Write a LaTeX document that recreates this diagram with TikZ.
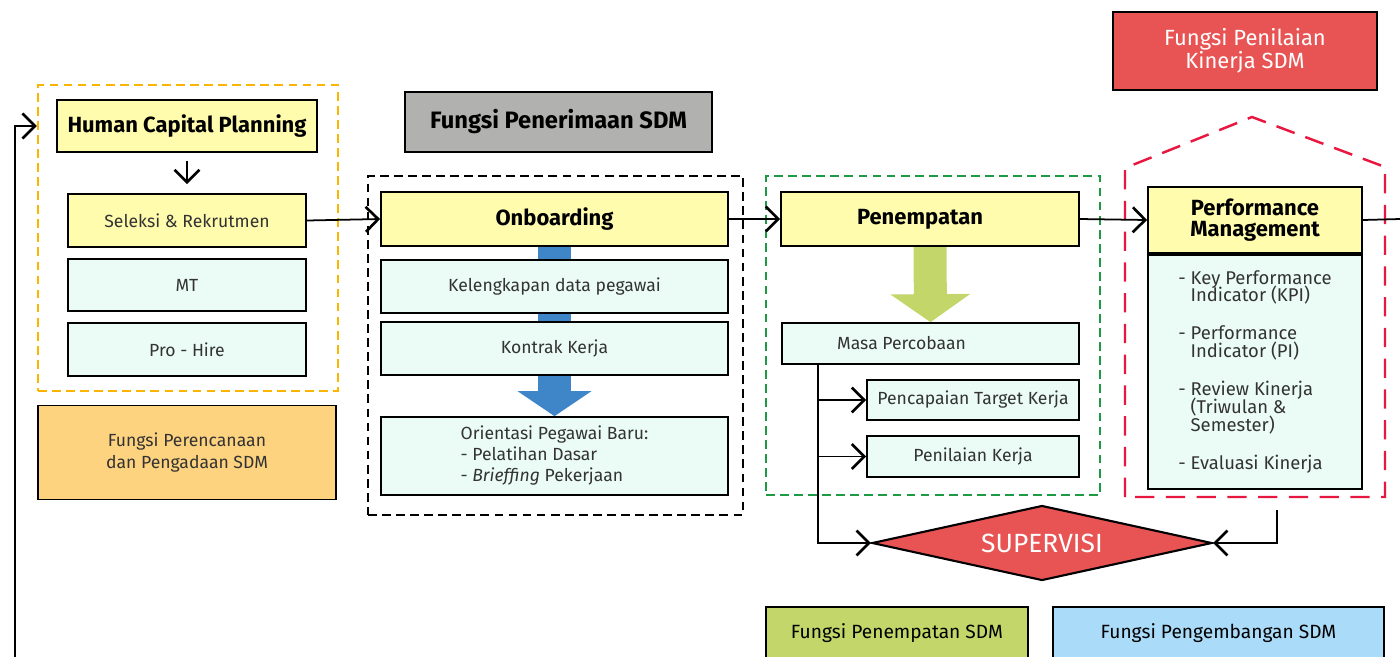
\documentclass[tikz,border=0pt]{standalone}
\usepackage{fontspec}
\setmainfont{Fira Sans}
\usetikzlibrary{arrows.meta,shapes.geometric}
\pgfdeclarelayer{bg}
\pgfsetlayers{bg,main}
\definecolor{ylw}{HTML}{FFFCAE}
\definecolor{cyn}{HTML}{EBFCF6}
\definecolor{orng}{HTML}{FDD380}
\definecolor{abu}{HTML}{B1B1AF}
\definecolor{biru}{HTML}{3F86C8}
\definecolor{hijau}{HTML}{C3D669}
\definecolor{merah}{HTML}{E85454}
\definecolor{birumuda}{HTML}{AADBF9}
\definecolor{dorange}{HTML}{FBB400}
\definecolor{dgreen}{HTML}{1E9A45}
\definecolor{dred}{HTML}{E8173F}
\definecolor{txt}{HTML}{333333}
\newcommand{\butir}{\phantom{-}\ }
\newcommand{\rapat}{\fontsize{10.5}{10.2}\selectfont\lineskiplimit=-10pt\relax}
\begin{document}
\begin{tikzpicture}
		[box/.style={draw=black, line width=1pt, minimum height=1.06cm, inner sep=2pt,
			font=\fontsize{10}{12}\selectfont, text=txt},
		ttl/.style={box, fill=ylw, text=black,
			font=\fontsize{12.5}{11.5}\selectfont\bfseries},
		sub/.style={box, fill=cyn},
		fungsi/.style={box, text=black, minimum width=#1, font=\fontsize{10.9}{12}\selectfont},
		dashbox/.style={draw=#1, line width=1.4pt, dash pattern=on 5pt off 3pt},
		arr/.style={line width=1pt,
			-{Straight Barb[length=2.5mm,width=5mm,line width=1.5pt]}},
		blok/.style={line width=0.66cm, draw=#1}]
		\useasboundingbox (0,0) rectangle (28,-13.12);
		\node[dashbox=dorange, minimum width=6cm, minimum height=6.12cm] (plan) at (3.76,-4.76) {};
		\node[ttl, minimum width=5.2cm, minimum height=1.04cm] (hcp) at (3.74,-2.52) {Human Capital Planning};
		\node[sub, fill=ylw, minimum width=4.76cm] (sel) at (3.74,-4.41) {Seleksi \& Rekrutmen};
		\node[sub, minimum width=4.76cm, minimum height=1.04cm] (mt) at (3.74,-5.70) {MT};
		\node[sub, minimum width=4.76cm] (pro) at (3.74,-6.99) {Pro - Hire};
		\node[box, fill=orng, minimum width=5.96cm, minimum height=1.88cm, align=center] (rencana) at (3.74,-9.05)
			{Fungsi Perencanaan\\dan Pengadaan SDM};
		\node[box, fill=abu, text=black, minimum width=6.14cm, minimum height=1.2cm,
			font=\fontsize{13.5}{14}\selectfont\bfseries] (terimaSDM) at (11.17,-2.44) {Fungsi Penerimaan SDM};
		\node[dashbox=black, minimum width=7.5cm, minimum height=6.78cm] (terima) at (11.11,-6.91) {};
		\node[ttl, minimum width=6.94cm, minimum height=1.08cm] (onb) at (11.09,-4.38) {Onboarding};
		\node[sub, minimum width=6.94cm] (data) at (11.09,-5.73) {Kelengkapan data pegawai};
		\node[sub, minimum width=6.94cm] (kontrak) at (11.09,-6.97) {Kontrak Kerja};
		\node[sub, minimum width=6.94cm, minimum height=1.56cm] (orient) at (11.09,-9.12)
			{\begin{tabular}{@{}l@{}}Orientasi Pegawai Baru:\\- Pelatihan Dasar\\- \textit{Brieffing} Pekerjaan\end{tabular}};
		\node[dashbox=dgreen, minimum width=6.68cm, minimum height=6.38cm] (penempatan) at (18.66,-6.71) {};
		\node[ttl, minimum width=5.96cm, minimum height=1.08cm] (tempat) at (18.6,-4.38) {Penempatan\hspace*{0.4cm}};
		\node[sub, minimum width=5.94cm, minimum height=0.82cm] (masa) at (18.61,-6.87) {Masa Percobaan\hspace*{1.16cm}};
		\node[sub, minimum width=4.24cm, minimum height=0.8cm] (target) at (19.46,-8.0) {Pencapaian Target Kerja};
		\node[sub, minimum width=4.24cm, minimum height=0.82cm] (nilai) at (19.46,-9.13) {Penilaian Kerja};
		\draw[dashbox=dred, dash pattern=on 11pt off 6.5pt]
			(22.5,-9.94) -- (22.5,-3.36) -- (25.04,-2.34) -- (27.7,-3.34) -- (27.7,-9.94) -- cycle;
		\node[ttl, minimum width=4.28cm, minimum height=1.32cm, align=center] (pmhead) at (25.1,-4.4)
			{Performance\\Management};
		\node[sub, minimum width=4.28cm, minimum height=4.68cm, anchor=north, align=left,
			font=\rapat] (pmbody) at (pmhead.south)
			{- Key Performance\\\butir Indicator (KPI)\\[4mm]
			- Performance\\\butir Indicator (PI)\\[4mm]
			- Review Kinerja\\\butir (Triwulan \&\\\butir Semester)\\[4mm]
			- Evaluasi Kinerja};
		\node[box, fill=merah, text=white, minimum width=5.28cm, minimum height=1.56cm, align=center,
			font=\fontsize{12.5}{13}\selectfont] (nilaiSDM) at (24.9,-1.02) {Fungsi Penilaian\\Kinerja SDM};
		\node[diamond, draw=black, fill=merah, line width=1.2pt, aspect=4.5, inner sep=0pt,
			minimum width=6.8cm, minimum height=1.5cm, text=white,
			font=\fontsize{15}{16}\selectfont] (sup) at (20.84,-10.86) {SUPERVISI};
		\node[fungsi=5.24cm, fill=hijau] (fpen) at (17.94,-12.67) {Fungsi Penempatan SDM};
		\node[fungsi=6.62cm, fill=birumuda] (fpeng) at (24.37,-12.67) {Fungsi Pengembangan SDM};
		\begin{pgfonlayer}{bg}
			\draw[blok=biru, -{Triangle[width=1.48cm,length=0.5cm,line width=0pt]}] (onb.south) -- (orient.north);
			\draw[blok=hijau, -{Triangle[width=1.6cm,length=0.56cm,line width=0pt]}] (tempat.south) -- (masa.north);
		\end{pgfonlayer}
		\coordinate (awal) at (0.3,-13.2);
		\coordinate (cabang) at (16.36,0);
		\coordinate (pmout) at (25.54,-10.2);
		\coordinate (keluar) at (28,-4.38);
		\draw[arr, line width=1.3pt] (awal) |- (plan.west |- hcp.west);
		\draw[arr, shorten <=0.16cm, shorten >=0.18cm] (hcp) -- (sel);
		\draw[arr] (sel.east) -- (onb.west);
		\draw[arr] (onb.east) -- (tempat.west);
		\draw[arr] (tempat.east) -- (pmhead.west);
		\draw[line width=1pt] (pmhead.east) -- (keluar);
		\draw[arr] (masa.south -| cabang) |- (sup.west);
		\draw[arr] (cabang |- target) -- (target.west);
		\draw[arr] (cabang |- nilai) -- (nilai.west);
		\draw[arr] (pmout) |- (sup.east);
	\end{tikzpicture}
\end{document}
